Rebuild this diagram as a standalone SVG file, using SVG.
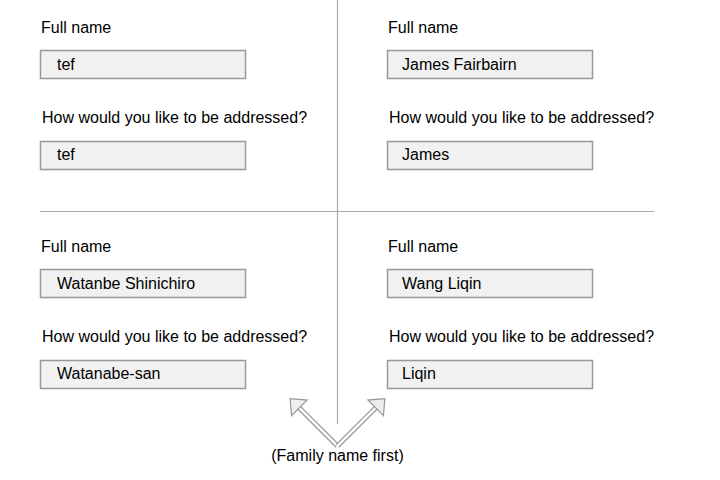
<svg xmlns="http://www.w3.org/2000/svg" width="720" height="480" viewBox="0 0 720 480">
<style>
text{font-family:"Liberation Sans",Arial,sans-serif;font-size:16px;fill:#000}
.box{fill:#f1f1f1;stroke:#999;stroke-width:1.5}
.div{stroke:#aaa;stroke-width:1.2;fill:none}
.shaftO{stroke:#999;stroke-width:5;fill:none}
.shaftI{stroke:#fff;stroke-width:2.4;fill:none}
.head{fill:#eee;stroke:#999;stroke-width:1.2;stroke-linejoin:miter}
</style>
<rect width="720" height="480" fill="#fff"/>
<g id="dividers">
<line class="div" x1="337.5" y1="0" x2="337.5" y2="424"/>
<line class="div" x1="40" y1="211.5" x2="654" y2="211.5"/>
</g>
<g id="form-tl">
<text x="41" y="33">Full name</text>
<rect class="box" x="40.5" y="50.5" width="205" height="28"/>
<text x="57" y="70">tef</text>
<text x="42" y="123">How would you like to be addressed?</text>
<rect class="box" x="40.5" y="141.5" width="205" height="28"/>
<text x="57" y="160">tef</text>
</g>
<g id="form-tr">
<text x="388" y="33">Full name</text>
<rect class="box" x="387.5" y="50.5" width="205" height="28"/>
<text x="402" y="70">James Fairbairn</text>
<text x="389" y="123">How would you like to be addressed?</text>
<rect class="box" x="387.5" y="141.5" width="205" height="28"/>
<text x="402" y="160">James</text>
</g>
<g id="form-bl">
<text x="41" y="252">Full name</text>
<rect class="box" x="40.5" y="269.5" width="205" height="28"/>
<text x="57" y="289">Watanbe Shinichiro</text>
<text x="42" y="342">How would you like to be addressed?</text>
<rect class="box" x="40.5" y="360.5" width="205" height="28"/>
<text x="57" y="379">Watanabe-san</text>
</g>
<g id="form-br">
<text x="388" y="252">Full name</text>
<rect class="box" x="387.5" y="269.5" width="205" height="28"/>
<text x="402" y="289">Wang Liqin</text>
<text x="389" y="342">How would you like to be addressed?</text>
<rect class="box" x="387.5" y="360.5" width="205" height="28"/>
<text x="402" y="379">Liqin</text>
</g>
<g id="connectors">
<g transform="translate(337.5,446) rotate(-135)">
<line class="shaftO" x1="0" y1="0" x2="56" y2="0"/>
<line class="shaftI" x1="-1" y1="0" x2="56" y2="0"/>
<polygon class="head" points="67,0 54,-11 54,11"/>
</g>
<g transform="translate(337.5,446) rotate(-45)">
<line class="shaftO" x1="0" y1="0" x2="56" y2="0"/>
<line class="shaftI" x1="-1" y1="0" x2="56" y2="0"/>
<polygon class="head" points="67,0 54,-11 54,11"/>
</g>
</g>
<g id="note">
<text x="337.5" y="461" text-anchor="middle">(Family name first)</text>
</g>
</svg>
